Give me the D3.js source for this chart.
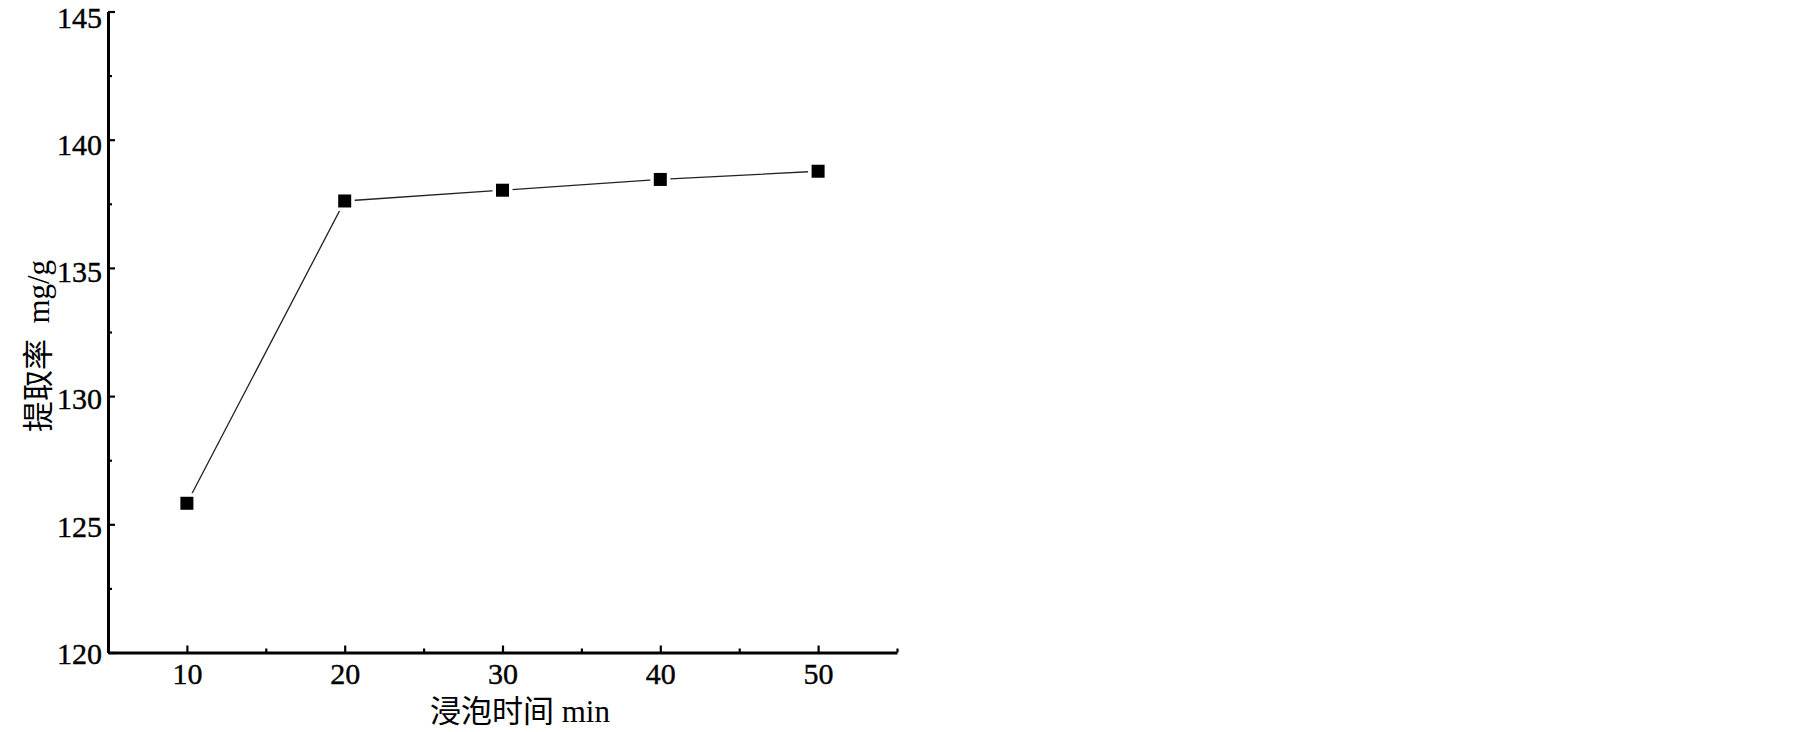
<!DOCTYPE html>
<html>
<head>
<meta charset="utf-8">
<script src="https://cdn.jsdelivr.net/npm/d3@7"></script>
<style>
  html, body { margin: 0; padding: 0; background: #fff; }
  svg { display: block; }
  text { font-family: "Liberation Serif", "Times New Roman", "Noto Sans CJK SC", serif; fill: #000; }
</style>
</head>
<body>
<svg id="chart" width="1805" height="732"></svg>
<script>
const soakTime = [10, 20, 30, 40, 50];
const extractionRate = [125.82, 137.61, 138.03, 138.45, 138.77];
const xTicks = [10, 20, 30, 40, 50];
const xMinorTicks = [15, 25, 35, 45, 55];
const yTicks = [120, 125, 130, 135, 140, 145];
const yMinorTicks = [122.5, 127.5, 132.5, 137.5, 142.5];
const xTitle = "浸泡时间 min";
const yTitle = "提取率  mg/g";

const svg = d3.select("#chart");
const x = d3.scaleLinear().domain([5, 55]).range([108, 897]);
const y = d3.scaleLinear().domain([120, 145]).range([652.5, 11.5]);
const axisX0 = 108, axisY0 = 652.5;
const serif = '"Liberation Serif", "Times New Roman", serif';

// minor ticks
const gxm = svg.append("g").attr("transform", `translate(0,${axisY0})`)
  .call(d3.axisBottom(x).tickValues(xMinorTicks).tickSize(-4).tickSizeOuter(0).tickFormat(""));
gxm.select(".domain").remove();
gxm.selectAll("line").attr("stroke", "#000").attr("stroke-width", 2.2);

const gym = svg.append("g").attr("transform", `translate(${axisX0},0)`)
  .call(d3.axisLeft(y).tickValues(yMinorTicks).tickSize(-4).tickSizeOuter(0).tickFormat(""));
gym.select(".domain").remove();
gym.selectAll("line").attr("stroke", "#000").attr("stroke-width", 2.2);

// major axes
const gx = svg.append("g").attr("transform", `translate(0,${axisY0})`)
  .call(d3.axisBottom(x).tickValues(xTicks).tickSize(-7).tickSizeOuter(0).tickPadding(10).tickFormat(d3.format("d")));
gx.select(".domain").attr("stroke", "#000").attr("stroke-width", 3);
gx.selectAll(".tick line").attr("stroke", "#000").attr("stroke-width", 2.2);
gx.selectAll(".tick text").style("font-size", "30px").style("font-family", serif)
  .attr("stroke", "#000").attr("stroke-width", 0.4);

const gy = svg.append("g").attr("transform", `translate(${axisX0},0)`)
  .call(d3.axisLeft(y).tickValues(yTicks).tickSize(-7).tickSizeOuter(0).tickPadding(6).tickFormat(d3.format("d")));
gy.select(".domain").attr("stroke", "#000").attr("stroke-width", 3);
gy.selectAll(".tick line").attr("stroke", "#000").attr("stroke-width", 2.2);
gy.selectAll(".tick text").style("font-size", "30px").style("font-family", serif)
  .attr("stroke", "#000").attr("stroke-width", 0.4)
  .attr("dy", d => (0.36 + (d - 120) * 0.0065).toFixed(3) + "em");

// line
const pts = soakTime.map((t, i) => [x(t), y(extractionRate[i])]);
svg.append("path")
  .attr("d", d3.line()(pts))
  .attr("fill", "none").attr("stroke", "#222").attr("stroke-width", 1.3);

// white gaps around markers
svg.selectAll("rect.gap").data(pts).enter().append("rect")
  .attr("class", "gap")
  .attr("x", d => d[0] - 10).attr("y", d => d[1] - 10)
  .attr("width", 20).attr("height", 20).attr("fill", "#fff");

svg.selectAll("rect.mk").data(pts).enter().append("rect")
  .attr("class", "mk")
  .attr("x", d => d[0] - 6.5).attr("y", d => d[1] - 6.5)
  .attr("width", 13).attr("height", 13).attr("fill", "#000");

// titles
svg.append("text")
  .attr("x", 520).attr("y", 722)
  .attr("text-anchor", "middle")
  .style("font-size", "31px")
  .style("white-space", "pre")
  .text(xTitle);

svg.append("text")
  .attr("transform", "translate(49,346) rotate(-90)")
  .attr("text-anchor", "middle")
  .style("font-size", "31px")
  .style("white-space", "pre")
  .text(yTitle);
</script>
</body>
</html>
